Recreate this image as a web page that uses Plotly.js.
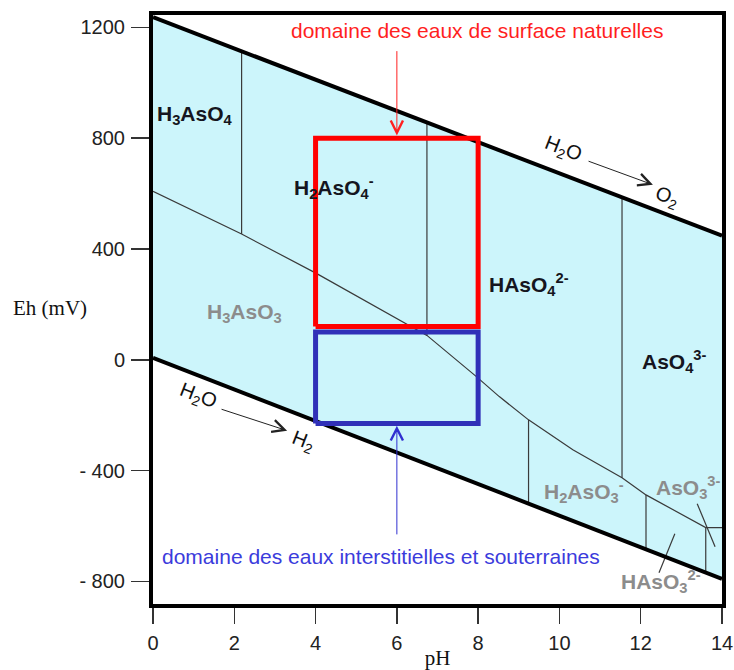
<!DOCTYPE html>
<html><head><meta charset="utf-8">
<script src="https://cdn.plot.ly/plotly-3.0.1.min.js"></script>
<style>html,body{margin:0;padding:0;background:#fff;}#chart{width:734px;height:670px;}</style>
</head><body><div id="chart"></div>
<script>
// ---- axes ----
const phTicks = [0, 2, 4, 6, 8, 10, 12, 14];
const ehTicks = [-800, -400, 0, 400, 800, 1200];
const ehTickText = ['- 800', '- 400', '0', '400', '800', '1200'];

// ---- water stability limits (pH 0 and pH 14) ----
const waterPH = [0, 14];
const o2LimitEh = [1237, 448];
const h2LimitEh = [7, -791];

// ---- As(V) / As(III) boundary ----
const redoxPH = [0, 2.18, 4.03, 6.74, 7.95, 8.52, 9.24, 10.33, 11.54, 12.13, 13.6, 14];
const redoxEh = [608, 454, 311, 88, -60, -133, -217, -325, -426, -488, -606, -606];

// ---- vertical acid/base boundaries ----
const asVBoundPH = [2.18, 6.74, 11.54];
const asVBoundTop = [1112, 856, 586];
const asVBoundBottom = [454, 88, -426];
const asIIIBoundPH = [9.24, 12.13, 13.6];
const asIIIBoundTop = [-217, -488, -606];
const asIIIBoundBottom = [-519, -684, -767];

// ---- label pointer lines ----
const pointerPH = [[13.39, 13.83], [12.84, 12.45]];
const pointerEh = [[-520, -675], [-628, -769]];

// ---- natural water domains ----
const surfaceBoxPH = [4, 8];
const surfaceBoxEh = [120, 800];
const groundBoxPH = [4, 8];
const groundBoxEh = [-230, 100];

// ---- species labels ----
const speciesText = [
  '<b>H<sub>3</sub>AsO<sub>4</sub></b>',
  '<b>H<sub>2</sub>AsO<sub>4</sub><sup>-</sup></b>',
  '<b>HAsO<sub>4</sub><sup>2-</sup></b>',
  '<b>AsO<sub>4</sub><sup>3-</sup></b>',
  '<b>H<sub>3</sub>AsO<sub>3</sub></b>',
  '<b>H<sub>2</sub>AsO<sub>3</sub><sup>-</sup></b>',
  '<b>AsO<sub>3</sub><sup>3-</sup></b>',
  '<b>HAsO<sub>3</sub><sup>2-</sup></b>'
];
const speciesPH = [1.03, 4.45, 9.24, 12.82, 2.24, 10.61, 13.17, 12.5];
const speciesEh = [885, 622, 271, -7, 170, -476, -463, -801];
const speciesIsAsIII = [false, false, false, false, true, true, true, true];

const BLACK_LBL = '#151520';
const GREY_LBL = '#8c8c8c';
const CYAN = '#ccf5fb';
const THIN = '#3a3a3a';

function segments(xs, y0s, y1s) {
  const x = [], y = [];
  xs.forEach((v, i) => { x.push(v, v, null); y.push(y0s[i], y1s[i], null); });
  return {x, y};
}
function rect(px, ey) {
  return {x: [px[0], px[1], px[1], px[0], px[0]], y: [ey[0], ey[0], ey[1], ey[1], ey[0]]};
}

const vSegA = segments(asVBoundPH, asVBoundTop, asVBoundBottom);
const vSegB = segments(asIIIBoundPH, asIIIBoundTop, asIIIBoundBottom);
const ptrX = [], ptrY = [];
pointerPH.forEach((p, i) => { ptrX.push(p[0], p[1], null); ptrY.push(pointerEh[i][0], pointerEh[i][1], null); });
const rb = rect(surfaceBoxPH, surfaceBoxEh);
const bb = rect(groundBoxPH, groundBoxEh);

const traces = [
  {x: [waterPH[0], waterPH[1], waterPH[1], waterPH[0]], y: [o2LimitEh[0], o2LimitEh[1], h2LimitEh[1], h2LimitEh[0]],
   mode: 'lines', fill: 'toself', fillcolor: CYAN, line: {width: 0, color: CYAN}},
  {x: redoxPH, y: redoxEh, mode: 'lines', line: {color: THIN, width: 1.2}},
  {x: vSegA.x, y: vSegA.y, mode: 'lines', line: {color: THIN, width: 1.2}},
  {x: vSegB.x, y: vSegB.y, mode: 'lines', line: {color: THIN, width: 1.2}},
  {x: ptrX, y: ptrY, mode: 'lines', line: {color: THIN, width: 1.2}},
  {x: waterPH, y: o2LimitEh, mode: 'lines', line: {color: '#000', width: 4}},
  {x: waterPH, y: h2LimitEh, mode: 'lines', line: {color: '#000', width: 4}},
  {x: rb.x, y: rb.y, mode: 'lines', line: {color: '#ff0000', width: 5}},
  {x: bb.x, y: bb.y, mode: 'lines', line: {color: '#3030b8', width: 5}}
];

const SANS = 'Liberation Sans, Arial, sans-serif';
const SERIF = 'Liberation Serif, Times New Roman, serif';

const annotations = speciesText.map((t, i) => ({
  x: speciesPH[i], y: speciesEh[i], xref: 'x', yref: 'y', text: t, showarrow: false,
  xanchor: 'center', yanchor: 'middle',
  font: {family: SANS, size: 21, color: speciesIsAsIII[i] ? GREY_LBL : BLACK_LBL}
}));

function arrow(x0, y0, x1, y1, color) {
  return {x: x1, y: y1, ax: x0, ay: y0, xref: 'x', yref: 'y', axref: 'x', ayref: 'y',
    text: '', showarrow: true, arrowhead: 5, arrowsize: 2.4, arrowwidth: 1, arrowcolor: color};
}
function rotText(t, x, y, ang) {
  return {x: x, y: y, xref: 'x', yref: 'y', text: t, showarrow: false, textangle: ang,
    xanchor: 'center', yanchor: 'middle', font: {family: SANS, size: 20, color: '#111'}};
}

annotations.push(
  rotText('H<sub>2</sub>O', 10.09, 758, 21),
  arrow(10.68, 719, 12.30, 632, '#222'),
  rotText('O<sub>2</sub>', 12.65, 585, 21),
  rotText('H<sub>2</sub>O', 1.11, -134, 21),
  arrow(1.65, -177, 3.30, -256, '#222'),
  rotText('H<sub>2</sub>', 3.69, -296, 21),
  {x: 7.97, y: 1188, xref: 'x', yref: 'y', text: 'domaine des eaux de surface naturelles', showarrow: false,
   xanchor: 'center', yanchor: 'middle', font: {family: SANS, size: 21, color: '#ff1f1f'}},
  arrow(6.0, 1120, 6.0, 810, '#ff2020'),
  {x: 5.61, y: -711, xref: 'x', yref: 'y', text: 'domaine des eaux interstitielles et souterraines', showarrow: false,
   xanchor: 'center', yanchor: 'middle', font: {family: SANS, size: 21, color: '#3b3bdc'}},
  arrow(6.0, -636, 6.0, -238, '#3030d0'),
  {x: -0.181, y: 0.5025, xref: 'paper', yref: 'paper', text: 'Eh (mV)', showarrow: false,
   xanchor: 'center', yanchor: 'middle', font: {family: SERIF, size: 21, color: '#111'}}
);

const layout = {
  width: 734, height: 670,
  margin: {l: 153, r: 12, t: 15, b: 66},
  paper_bgcolor: '#fff', plot_bgcolor: '#fff',
  showlegend: false, hovermode: false,
  xaxis: {
    range: [0, 14], tickvals: phTicks, ticks: 'outside', ticklen: 16, tickwidth: 1.5, tickcolor: '#333',
    showline: true, linewidth: 4, linecolor: '#000', mirror: true, showgrid: false, zeroline: false,
    tickfont: {family: SANS, size: 20, color: '#222'}, ticklabelstandoff: 2,
    title: {text: 'pH', font: {family: SERIF, size: 21, color: '#111'}, standoff: 0}
  },
  yaxis: {
    range: [-882, 1245], tickvals: ehTicks, ticktext: ehTickText, ticks: 'outside', ticklen: 18, tickwidth: 1.5, tickcolor: '#333',
    showline: true, linewidth: 4, linecolor: '#000', mirror: true, showgrid: false, zeroline: false,
    tickfont: {family: SANS, size: 20, color: '#222'}, ticklabelstandoff: 2
  },
  annotations: annotations
};

Plotly.newPlot('chart', traces, layout, {displayModeBar: false, staticPlot: true});
</script>
</body></html>
